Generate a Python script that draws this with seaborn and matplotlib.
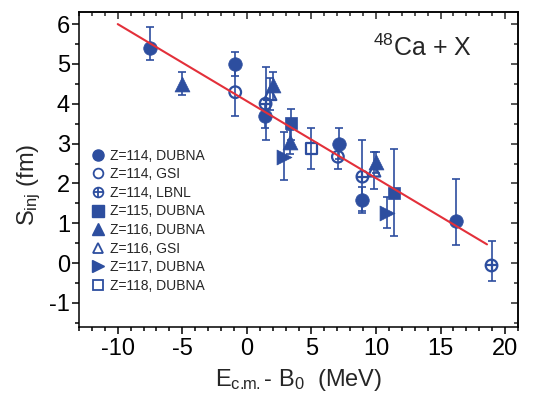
import numpy as np
import pandas as pd
import seaborn as sns
import matplotlib.pyplot as plt
from matplotlib.ticker import MultipleLocator
from matplotlib.lines import Line2D

sns.set_theme(style="ticks")
plt.rcParams['font.family'] = ['Liberation Sans', 'DejaVu Sans']
plt.rcParams['mathtext.fontset'] = 'custom'
plt.rcParams['mathtext.rm'] = 'Liberation Sans'
plt.rcParams['mathtext.it'] = 'Liberation Sans'
plt.rcParams['axes.unicode_minus'] = False

BLUE = '#2D4E9F'
RED = '#E3303A'

# ---- data (x, y, lower bound, upper bound) ----
z114_dubna_x = [-7.5, -0.9, 1.4, 7.15, 8.95, 16.2]
z114_dubna_y = [5.4, 5.0, 3.7, 3.0, 1.58, 1.06]
z114_dubna_lo = [5.1, 4.7, 3.4, 2.61, 1.27, 0.46]
z114_dubna_hi = [5.93, 5.29, 4.0, 3.39, 1.9, 2.1]

z114_gsi_x = [-0.9, 7.05]
z114_gsi_y = [4.29, 2.67]
z114_gsi_lo = [3.69, 2.37]
z114_gsi_hi = [4.9, 2.97]

z114_lbnl_x = [1.45, 8.95, 18.95]
z114_lbnl_y = [4.0, 2.17, -0.06]
z114_lbnl_lo = [3.1, 1.3, -0.44]
z114_lbnl_hi = [4.92, 3.08, 0.56]

z115_dubna_x = [3.4, 11.4]
z115_dubna_y = [3.52, 1.75]
z115_dubna_lo = [3.1, 0.67]
z115_dubna_hi = [3.88, 2.87]

z116_dubna_x = [-5.0, 2.0, 3.35, 10.0]
z116_dubna_y = [4.5, 4.46, 3.05, 2.54]
z116_dubna_lo = [4.21, 4.1, 2.75, 2.25]
z116_dubna_hi = [4.79, 4.79, 3.35, 2.79]

z116_gsi_x = [1.8, 9.85]
z116_gsi_y = [4.25, 2.33]
z116_gsi_lo = [3.85, 1.87]
z116_gsi_hi = [4.65, 2.79]

z117_dubna_x = [2.9, 10.85]
z117_dubna_y = [2.67, 1.25]
z117_dubna_lo = [2.08, 0.87]
z117_dubna_hi = [3.29, 1.67]

z118_dubna_x = [5.0]
z118_dubna_y = [2.87]
z118_dubna_lo = [2.37]
z118_dubna_hi = [3.39]

fit_x = [-10.0, 18.6]
fit_y = [6.0, 0.47]

labels = ['Z=114, DUBNA', 'Z=114, GSI', 'Z=114, LBNL', 'Z=115, DUBNA',
          'Z=116, DUBNA', 'Z=116, GSI', 'Z=117, DUBNA', 'Z=118, DUBNA']

series = [
    (z114_dubna_x, z114_dubna_y, z114_dubna_lo, z114_dubna_hi, 'o', True, 95),
    (z114_gsi_x, z114_gsi_y, z114_gsi_lo, z114_gsi_hi, 'o', False, 70),
    (z114_lbnl_x, z114_lbnl_y, z114_lbnl_lo, z114_lbnl_hi, 'oplus', False, 70),
    (z115_dubna_x, z115_dubna_y, z115_dubna_lo, z115_dubna_hi, 's', True, 75),
    (z116_dubna_x, z116_dubna_y, z116_dubna_lo, z116_dubna_hi, '^', True, 115),
    (z116_gsi_x, z116_gsi_y, z116_gsi_lo, z116_gsi_hi, '^', False, 80),
    (z117_dubna_x, z117_dubna_y, z117_dubna_lo, z117_dubna_hi, '>', True, 115),
    (z118_dubna_x, z118_dubna_y, z118_dubna_lo, z118_dubna_hi, 's', False, 60),
]

fig = plt.figure(figsize=(5.35, 4.05), dpi=100)
ax = fig.add_axes([0.1477, 0.193, 0.8205, 0.777])

for (x, y, lo, hi, mk, filled, s) in series:
    x = np.array(x); y = np.array(y)
    yerr = np.vstack([y - np.array(lo), np.array(hi) - y])
    ax.errorbar(x, y, yerr=yerr, fmt='none', ecolor=BLUE, elinewidth=1.2,
                capsize=3, capthick=1.2, zorder=2)
    df = pd.DataFrame({'x': x, 'y': y})
    if mk == 'oplus':
        sns.scatterplot(data=df, x='x', y='y', marker='o', s=s, facecolor='none',
                        edgecolor=BLUE, linewidth=1.6, ax=ax, zorder=3)
        sns.scatterplot(data=df, x='x', y='y', marker='+', s=s, color=BLUE,
                        linewidth=1.6, ax=ax, zorder=3)
    elif filled:
        sns.scatterplot(data=df, x='x', y='y', marker=mk, s=s, color=BLUE,
                        edgecolor=BLUE, linewidth=0.5, ax=ax, zorder=3)
    else:
        sns.scatterplot(data=df, x='x', y='y', marker=mk, s=s, facecolor='none',
                        edgecolor=BLUE, linewidth=1.6, ax=ax, zorder=3)

sns.lineplot(x=fit_x, y=fit_y, color=RED, linewidth=1.5, ax=ax, zorder=4)

ax.set_xlim(-13, 21)
ax.set_ylim(-1.6, 6.3)
ax.set_xticks(range(-10, 21, 5))
ax.set_yticks(range(-1, 7))
ax.xaxis.set_minor_locator(MultipleLocator(1))
ax.yaxis.set_minor_locator(MultipleLocator(0.5))
ax.tick_params(which='both', direction='out', colors='black', labelsize=17, width=1.1)
ax.tick_params(axis='x', which='major', length=5, pad=3)
ax.tick_params(axis='y', which='major', length=5, pad=1.5)
ax.tick_params(which='minor', length=3)
for sp in ax.spines.values():
    sp.set_visible(True)
    sp.set_linewidth(1.1)
    sp.set_color('black')

secx = ax.secondary_xaxis('top')
secx.set_xticks(list(range(-10, 21, 5)), labels=[''] * 7)
secx.xaxis.set_minor_locator(MultipleLocator(1))
secx.tick_params(which='both', direction='in', width=1.1)
secx.tick_params(which='major', length=5)
secx.tick_params(which='minor', length=3)
secy = ax.secondary_yaxis('right')
secy.set_yticks(list(range(-1, 7)), labels=[''] * 8)
secy.yaxis.set_minor_locator(MultipleLocator(0.5))
secy.tick_params(which='both', direction='in', width=1.1)
secy.tick_params(which='major', length=5)
secy.tick_params(which='minor', length=3)

ax.set_xlabel(r'E$_{\mathregular{c.\!\!m.}}$- B$_{\mathregular{0}}$  (MeV)', fontsize=17, labelpad=5)
ax.set_ylabel(r'S$_{\mathregular{inj}}$ (fm)', fontsize=17)
ax.yaxis.set_label_coords(-0.083, 0.45)

ax.text(13.6, 5.4, r'$^{\mathregular{48}}$Ca + X', fontsize=18, ha='center', va='center')

# legend
handles = []
for (x, y, lo, hi, mk, filled, s) in series:
    if mk == 'oplus':
        h = (Line2D([], [], ls='none', marker='o', ms=7, mfc='none', mec=BLUE, mew=1.3),
             Line2D([], [], ls='none', marker='+', ms=7, mec=BLUE, mew=1.3))
    elif filled:
        h = Line2D([], [], ls='none', marker=mk, ms=8, mfc=BLUE, mec=BLUE)
    else:
        h = Line2D([], [], ls='none', marker=mk, ms=7, mfc='none', mec=BLUE, mew=1.3)
    handles.append(h)
leg = ax.legend(handles, labels, loc='upper left', bbox_to_anchor=(0.005, 0.597),
                frameon=False, fontsize=10, handlelength=1.0, handletextpad=0.4,
                labelspacing=0.33, borderpad=0.2)

fig.savefig('out.png', dpi=100)
